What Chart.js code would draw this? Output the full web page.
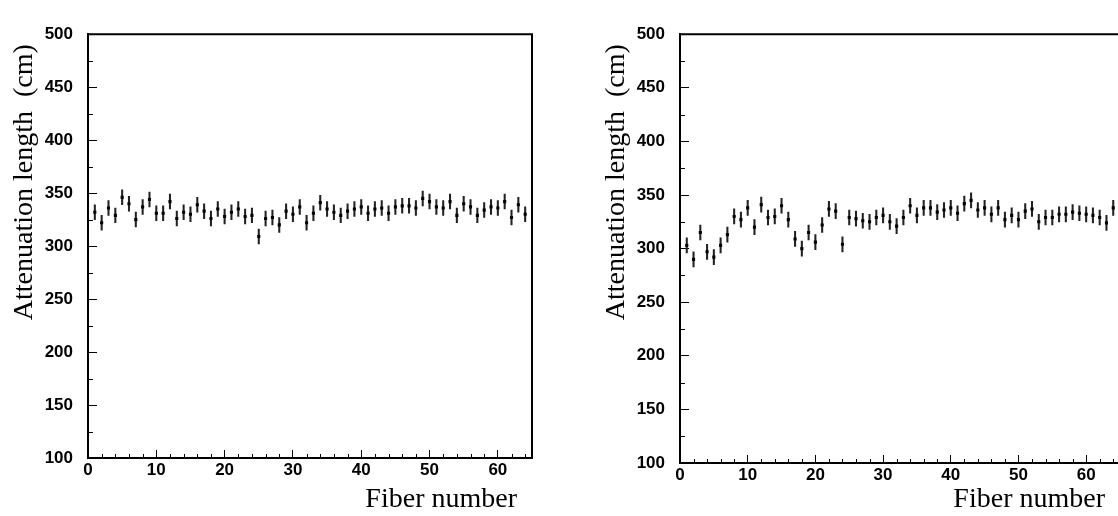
<!DOCTYPE html>
<html>
<head>
  <title>Attenuation length per fiber</title>
  <script src="https://cdn.jsdelivr.net/npm/chart.js"></script>
  <style>
    html, body { margin: 0; padding: 0; background: #fff; overflow: hidden; }
    body { position: relative; width: 1118px; height: 516px; }
    canvas { position: absolute; top: 0; }
    #leftChart { left: 0; }
    #rightChart { left: 560px; }
  </style>
</head>
<body>
  <canvas id="leftChart" width="560" height="516"></canvas>
  <canvas id="rightChart" width="580" height="516"></canvas>

  <script>
    // fiber index 1..64
    const fibers = Array.from({ length: 64 }, (_, i) => i + 1);

    // attenuation length (cm)
    const attenLeft = [
      332, 322, 336, 329, 346, 340, 325, 337, 344, 331,
      331, 342, 326, 332, 330, 339, 333, 326, 335, 328,
      332, 335, 328, 329, 309, 326, 327, 320, 333, 330,
      337, 322, 331, 341, 335, 332, 329, 333, 335, 337,
      331, 335, 336, 331, 337, 338, 338, 336, 345, 342,
      337, 336, 342, 329, 340, 337, 329, 334, 337, 336,
      342, 327, 339, 330
    ];
    const attenRight = [
      303, 290, 315, 297, 292, 303, 313, 330, 327, 338,
      320, 341, 329, 330, 340, 327, 309, 300, 315, 306,
      322, 337, 335, 304, 329, 328, 326, 325, 329, 331,
      325, 321, 329, 340, 331, 338, 338, 334, 336, 338,
      333, 342, 345, 336, 338, 332, 338, 327, 331, 327,
      335, 337, 325, 329, 329, 332, 332, 334, 333, 332,
      331, 329, 324, 338
    ];
    const errLeft = 7;
    const errRight = 7;

    // axis ranges and tick steps
    const xRange = [0, 65];
    const xMajor = 10, xMinor = 2;
    const yRange = [100, 500];
    const yMajor = 50, yMinor = 25;

    const xTitle = 'Fiber number';
    const yTitle = 'Attenuation length  (cm)';

    Chart.defaults.font.family = '"Liberation Sans", Arial, sans-serif';
    Chart.defaults.color = '#000';

    // top/right frame, minor ticks and the two axis titles
    const framePlugin = {
      id: 'frame',
      afterDraw(chart, args, opts) {
        const { ctx, chartArea: a, scales: { x, y } } = chart;
        ctx.save();
        ctx.strokeStyle = '#000';
        ctx.lineWidth = 2;
        ctx.beginPath();
        ctx.moveTo(a.left, a.top);
        ctx.lineTo(a.right, a.top);
        ctx.lineTo(a.right, a.bottom);
        ctx.stroke();

        ctx.lineWidth = 1;
        ctx.beginPath();
        for (let v = yRange[0] + yMinor; v < yRange[1]; v += yMinor) {
          if ((v - yRange[0]) % yMajor === 0) continue;
          const p = Math.round(y.getPixelForValue(v)) + 0.5;
          ctx.moveTo(a.left, p);
          ctx.lineTo(a.left + 5, p);
        }
        for (let v = xRange[0] + xMinor; v < xRange[1]; v += xMinor) {
          if (v % xMajor === 0) continue;
          const p = Math.round(x.getPixelForValue(v)) + 0.5;
          ctx.moveTo(p, a.bottom);
          ctx.lineTo(p, a.bottom - 4);
        }
        ctx.stroke();

        ctx.fillStyle = '#000';
        ctx.font = '28px "Liberation Serif", "Times New Roman", serif';
        ctx.textAlign = 'right';
        ctx.textBaseline = 'alphabetic';
        ctx.fillText(xTitle, a.right - 15, 507);
        ctx.translate(opts.titleX, a.top + 10);
        ctx.rotate(-Math.PI / 2);
        ctx.fillText(yTitle, 0, 0);
        ctx.restore();
      }
    };

    function drawPanel(id, values, err, box) {
      new Chart(document.getElementById(id), {
        type: 'scatter',
        data: {
          datasets: [
            {
              type: 'bar',
              data: fibers.map((f, i) => ({ x: f, y: [values[i] - err, values[i] + err] })),
              backgroundColor: '#222',
              barThickness: 1.4,
              order: 1
            },
            {
              type: 'scatter',
              data: fibers.map((f, i) => ({ x: f, y: values[i] })),
              pointStyle: 'rect',
              pointRadius: 2.2,
              borderWidth: 0,
              backgroundColor: '#000',
              order: 0
            }
          ]
        },
        options: {
          responsive: false,
          animation: false,
          events: [],
          layout: { padding: { top: box.top, right: box.right, left: 0, bottom: 0 } },
          plugins: {
            legend: { display: false },
            tooltip: { enabled: false },
            frame: { titleX: box.titleX }
          },
          scales: {
            x: {
              type: 'linear',
              min: xRange[0],
              max: xRange[1],
              offset: false,
              grid: { drawOnChartArea: false, offset: false, tickLength: -8, tickColor: '#000', tickWidth: 1 },
              border: { color: '#000', width: 2 },
              ticks: { stepSize: xMajor, includeBounds: false, maxRotation: 0, padding: 10,
                       font: { size: 17, weight: 'bold' } },
              afterFit: s => { s.height = box.xHeight; }
            },
            y: {
              type: 'linear',
              min: yRange[0],
              max: yRange[1],
              grid: { drawOnChartArea: false, tickLength: -9, tickColor: '#000', tickWidth: 1 },
              border: { color: '#000', width: 2 },
              ticks: { stepSize: yMajor, padding: 24, font: { size: 17, weight: 'bold' } },
              afterFit: s => { s.width = box.yWidth; }
            }
          }
        },
        plugins: [framePlugin]
      });
    }

    drawPanel('leftChart', attenLeft, errLeft, { yWidth: 88, top: 15, xHeight: 58, right: 28, titleX: 32 });
    drawPanel('rightChart', attenRight, errRight, { yWidth: 120, top: 24, xHeight: 53, right: 20, titleX: 64 });
  </script>
</body>
</html>
